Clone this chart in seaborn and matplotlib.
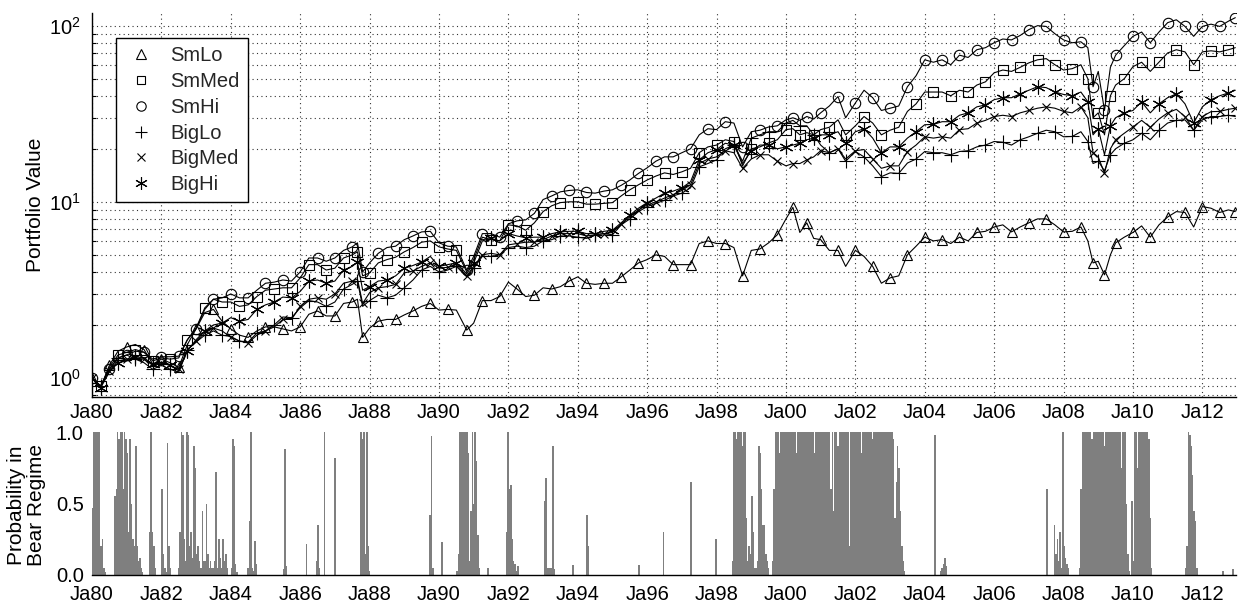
import numpy as np
import matplotlib
matplotlib.use("Agg")
import matplotlib.pyplot as plt
import seaborn as sns
from matplotlib.lines import Line2D
from matplotlib.ticker import LogLocator, NullFormatter

# ---------------- data ----------------
dates = [
    1980.00, 1980.25, 1980.50, 1980.75,
    1981.00, 1981.25, 1981.50, 1981.75,
    1982.00, 1982.25, 1982.50, 1982.75,
    1983.00, 1983.25, 1983.50, 1983.75,
    1984.00, 1984.25, 1984.50, 1984.75,
    1985.00, 1985.25, 1985.50, 1985.75,
    1986.00, 1986.25, 1986.50, 1986.75,
    1987.00, 1987.25, 1987.50, 1987.65, 1987.80,
    1988.00, 1988.25, 1988.50, 1988.75,
    1989.00, 1989.25, 1989.50, 1989.75,
    1990.00, 1990.25, 1990.50, 1990.80,
    1991.00, 1991.25, 1991.50, 1991.75,
    1992.00, 1992.25, 1992.50, 1992.75,
    1993.00, 1993.25, 1993.50, 1993.75,
    1994.00, 1994.25, 1994.50, 1994.75,
    1995.00, 1995.25, 1995.50, 1995.75,
    1996.00, 1996.25, 1996.50, 1996.75,
    1997.00, 1997.25, 1997.50, 1997.75,
    1998.00, 1998.25, 1998.50, 1998.75,
    1999.00, 1999.25, 1999.50, 1999.75,
    2000.00, 2000.20, 2000.40, 2000.60, 2000.80,
    2001.00, 2001.25, 2001.50, 2001.72,
    2002.00, 2002.25, 2002.50, 2002.75,
    2003.00, 2003.25, 2003.50, 2003.75,
    2004.00, 2004.25, 2004.50, 2004.75,
    2005.00, 2005.25, 2005.50, 2005.75,
    2006.00, 2006.25, 2006.50, 2006.75,
    2007.00, 2007.25, 2007.50, 2007.75,
    2008.00, 2008.25, 2008.50, 2008.70, 2008.85,
    2009.00, 2009.18, 2009.35, 2009.50, 2009.75,
    2010.00, 2010.25, 2010.50, 2010.75,
    2011.00, 2011.25, 2011.50, 2011.75,
    2012.00, 2012.25, 2012.50, 2012.75, 2012.95,
]

sm_lo = [
    1.00, 0.88, 1.18, 1.42,
    1.50, 1.55, 1.45, 1.20,
    1.28, 1.22, 1.15, 1.55,
    1.90, 2.35, 2.45, 2.10,
    1.90, 1.75, 1.70, 1.85,
    1.95, 1.95, 1.90, 1.85,
    1.95, 2.30, 2.40, 2.25,
    2.25, 2.65, 2.70, 2.80, 1.70,
    1.92, 2.10, 2.15, 2.15,
    2.28, 2.40, 2.55, 2.65,
    2.43, 2.45, 2.43, 1.87,
    2.05, 2.75, 2.75, 2.90,
    3.50, 3.20, 2.90, 2.95,
    3.25, 3.20, 3.30, 3.55,
    3.75, 3.45, 3.40, 3.45,
    3.45, 3.75, 4.10, 4.50,
    4.70, 5.00, 4.90, 4.40,
    4.40, 4.40, 5.80, 6.00,
    5.80, 5.80, 5.50, 3.80,
    5.30, 5.40, 5.85, 6.50,
    8.00, 9.30, 6.70, 7.60, 6.20,
    6.10, 5.30, 5.30, 4.30,
    5.30, 4.90, 4.30, 3.45,
    3.70, 3.80, 5.00, 5.60,
    6.30, 6.00, 6.10, 5.80,
    6.30, 6.00, 6.70, 6.80,
    7.20, 7.40, 6.75, 7.20,
    7.60, 8.00, 8.00, 7.40,
    6.75, 6.80, 7.20, 6.00, 4.50,
    4.60, 3.85, 5.00, 5.85, 6.30,
    6.70, 7.30, 6.30, 7.40,
    8.20, 8.80, 8.70, 7.20,
    9.40, 9.20, 8.70, 9.00, 8.80,
]

sm_med = [
    1.00, 0.90, 1.15, 1.35,
    1.40, 1.45, 1.40, 1.25,
    1.30, 1.28, 1.30, 1.65,
    1.92, 2.50, 2.80, 2.70,
    2.70, 2.55, 2.60, 2.90,
    3.15, 3.20, 3.25, 3.25,
    3.70, 4.40, 4.40, 4.10,
    4.20, 4.80, 5.00, 5.20, 3.80,
    3.95, 4.50, 4.70, 4.85,
    5.20, 5.50, 5.90, 6.00,
    5.55, 5.40, 5.30, 4.00,
    4.70, 6.30, 6.10, 6.00,
    7.40, 7.30, 6.90, 7.60,
    8.80, 9.50, 9.90, 10.0,
    10.0, 9.70, 9.70, 9.80,
    9.90, 10.8, 11.7, 12.5,
    13.3, 14.0, 14.6, 14.3,
    14.8, 15.5, 19.0, 20.5,
    21.0, 22.5, 22.0, 16.0,
    20.0, 20.5, 21.6, 22.5,
    25.7, 26.0, 24.0, 24.7, 24.0,
    25.7, 26.5, 29.2, 24.0,
    27.0, 30.5, 28.0, 24.0,
    25.5, 26.5, 32.6, 36.0,
    42.0, 42.0, 42.0, 40.0,
    43.0, 42.0, 46.0, 48.0,
    54.0, 56.0, 55.0, 58.0,
    61.5, 64.0, 65.0, 60.0,
    56.0, 57.0, 60.0, 50.0, 30.0,
    32.0, 24.0, 40.0, 46.0, 50.0,
    58.5, 62.0, 55.0, 62.0,
    70.0, 73.0, 71.0, 60.0,
    71.0, 72.0, 71.0, 73.0, 75.0,
]

sm_hi = [
    1.00, 0.90, 1.12, 1.30,
    1.35, 1.42, 1.40, 1.28,
    1.32, 1.32, 1.33, 1.65,
    1.90, 2.45, 2.80, 2.85,
    3.00, 2.85, 2.85, 3.15,
    3.45, 3.50, 3.60, 3.55,
    4.00, 4.80, 4.80, 4.60,
    4.80, 5.30, 5.55, 5.85, 4.00,
    4.50, 5.10, 5.50, 5.60,
    6.10, 6.40, 6.75, 6.80,
    5.85, 5.60, 5.55, 4.10,
    4.90, 6.60, 6.60, 6.30,
    7.50, 7.80, 7.90, 8.60,
    10.3, 10.8, 11.4, 11.6,
    11.7, 11.3, 11.2, 11.5,
    11.7, 12.4, 13.3, 14.5,
    15.6, 17.0, 18.0, 18.0,
    19.0, 20.0, 24.0, 26.0,
    25.7, 28.5, 28.0, 20.5,
    25.0, 25.5, 26.6, 27.0,
    29.2, 30.0, 29.0, 30.5, 29.5,
    32.0, 35.0, 39.6, 30.0,
    36.4, 43.0, 39.0, 33.0,
    34.0, 35.0, 45.0, 52.0,
    64.0, 62.0, 64.0, 60.0,
    68.0, 66.0, 73.0, 75.0,
    80.0, 84.0, 83.0, 88.0,
    95.0, 100.0, 99.0, 90.0,
    83.0, 80.0, 81.0, 75.0, 45.0,
    55.0, 33.0, 58.0, 68.0, 77.0,
    87.0, 92.0, 80.0, 92.0,
    104.0, 108.0, 99.0, 87.0,
    99.0, 102.0, 99.0, 106.0, 111.0,
]

big_lo = [
    1.00, 0.90, 1.12, 1.30,
    1.35, 1.28, 1.22, 1.12,
    1.18, 1.12, 1.08, 1.45,
    1.60, 1.75, 1.85, 1.75,
    1.72, 1.62, 1.60, 1.80,
    1.85, 2.00, 2.22, 2.20,
    2.50, 2.75, 2.70, 2.55,
    2.70, 3.20, 3.40, 3.55, 2.55,
    2.75, 2.95, 2.85, 2.95,
    3.25, 3.60, 4.10, 4.30,
    4.00, 4.10, 4.30, 3.75,
    4.20, 4.90, 4.90, 5.00,
    5.50, 5.60, 5.50, 5.60,
    6.00, 6.10, 6.40, 6.40,
    6.30, 6.20, 6.50, 6.60,
    6.50, 7.40, 8.00, 8.80,
    9.40, 9.80, 10.2, 10.8,
    11.2, 12.0, 15.8, 16.5,
    17.3, 20.0, 21.0, 17.0,
    23.0, 24.0, 25.0, 25.0,
    28.0, 29.0, 27.0, 27.0, 24.0,
    21.0, 19.0, 20.0, 17.0,
    19.3, 18.0, 16.0, 13.9,
    14.6, 14.5, 16.6, 17.5,
    19.3, 19.0, 19.0, 18.5,
    19.3, 19.5, 20.5, 21.0,
    22.0, 21.8, 21.0, 22.5,
    23.4, 24.5, 25.5, 25.0,
    23.4, 23.5, 25.0, 22.0, 16.5,
    17.0, 15.0, 18.5, 20.0, 21.5,
    22.5, 24.5, 22.5, 25.5,
    28.0, 29.0, 29.2, 25.5,
    29.2, 30.5, 30.5, 31.0, 30.5,
]

big_med = [
    1.00, 0.90, 1.10, 1.25,
    1.28, 1.30, 1.28, 1.18,
    1.22, 1.18, 1.12, 1.45,
    1.62, 1.80, 1.92, 1.85,
    1.70, 1.62, 1.58, 1.75,
    1.85, 1.95, 2.15, 2.15,
    2.55, 2.80, 2.85, 2.80,
    3.00, 3.45, 3.55, 3.65, 2.65,
    3.05, 3.25, 3.30, 3.40,
    3.95, 4.05, 4.30, 4.50,
    4.20, 4.25, 4.40, 3.80,
    4.30, 5.00, 5.10, 5.00,
    5.70, 5.80, 5.90, 5.90,
    6.10, 6.40, 6.60, 6.60,
    6.60, 6.40, 6.50, 6.60,
    6.70, 7.50, 8.20, 9.00,
    9.60, 10.0, 10.5, 11.0,
    11.6, 12.5, 16.5, 17.5,
    18.0, 19.5, 19.0, 15.5,
    17.5, 18.5, 18.5, 17.0,
    16.0, 16.5, 16.5, 17.3, 18.0,
    19.5, 19.0, 20.0, 17.5,
    19.5, 19.8, 17.5, 15.5,
    16.0, 16.0, 19.3, 21.0,
    23.4, 23.0, 23.4, 23.0,
    25.7, 26.0, 28.0, 29.0,
    30.5, 31.0, 30.5, 32.0,
    33.0, 34.0, 34.6, 34.0,
    32.6, 32.0, 34.6, 30.0, 19.0,
    18.0, 14.5, 20.0, 22.5, 24.5,
    26.6, 29.0, 26.5, 29.5,
    32.0, 33.5, 30.5, 25.5,
    30.5, 32.5, 32.6, 33.5, 34.0,
]

big_hi = [
    1.00, 0.88, 1.08, 1.22,
    1.25, 1.32, 1.30, 1.20,
    1.22, 1.18, 1.10, 1.42,
    1.65, 1.85, 2.00, 2.05,
    2.20, 2.10, 2.15, 2.45,
    2.60, 2.70, 2.88, 2.85,
    3.10, 3.55, 3.60, 3.45,
    3.55, 4.10, 4.30, 4.55, 3.15,
    3.30, 3.55, 3.60, 3.80,
    4.20, 4.35, 4.55, 4.90,
    4.30, 4.40, 4.50, 3.90,
    4.50, 6.00, 6.20, 6.00,
    6.60, 6.40, 6.25, 6.30,
    6.30, 6.60, 6.75, 6.80,
    6.80, 6.60, 6.60, 6.80,
    6.90, 7.60, 8.40, 9.20,
    9.90, 10.5, 11.2, 11.5,
    12.0, 13.0, 17.3, 19.0,
    19.8, 21.5, 21.0, 16.5,
    19.5, 21.0, 21.0, 20.0,
    20.5, 21.0, 21.5, 22.5, 23.0,
    24.0, 24.0, 25.0, 21.5,
    25.0, 26.0, 23.0, 19.0,
    20.5, 20.5, 23.0, 25.0,
    27.4, 27.5, 28.5, 28.5,
    31.0, 32.0, 34.6, 35.5,
    38.0, 39.0, 39.0, 41.0,
    43.0, 45.0, 44.5, 42.0,
    40.7, 40.0, 42.0, 37.0, 24.0,
    26.0, 18.5, 27.0, 30.0, 32.0,
    33.0, 37.0, 32.0, 36.0,
    39.0, 41.0, 36.0, 28.0,
    34.6, 38.0, 40.0, 41.5, 43.0,
]

series_names = ["SmLo", "SmMed", "SmHi", "BigLo", "BigMed", "BigHi"]

# bear-regime probability: episodes (start year, values every 0.04 yr)
bear_step = 0.04
bear_episodes = [
    (1980.02, [0.47, 1.0, 1.0, 1.0, 1.0, 1.0, 0.2, 0.25, 0.05, 0.02]),
    (1980.66, [0.55, 0.6, 1.0, 0.95, 1.0, 1.0, 0.6, 1.0, 0.95, 0.85, 0.3, 0.95,
               0.5, 0.25, 0.2, 0.9, 0.2, 0.1, 0.12, 0.05, 0.02]),
    (1981.66, [0.3, 1.0, 0.3, 0.2, 0.05]),
    (1982.02, [0.6, 0.15, 0.05, 0.02, 0.92, 0.2, 0.05]),
    (1982.50, [0.05, 0.3, 1.0, 0.98, 0.25, 0.1, 1.0, 0.98, 0.2, 0.3, 0.12, 0.9,
               0.75, 0.15, 0.2, 0.1, 0.05, 0.45, 0.1, 0.1, 0.5, 0.15, 0.05, 0.1,
               0.05, 0.05, 0.1, 0.72, 0.05, 0.25, 0.12, 0.05, 0.25, 0.1, 0.15, 0.05]),
    (1984.02, [0.05, 0.95, 0.9, 0.08, 0.02]),
    (1984.50, [0.05, 0.38, 1.0, 0.05, 0.03, 0.24, 0.08]),
    (1985.52, [0.04, 0.88, 0.06]),
    (1986.18, [0.22]),
    (1986.48, [0.1, 0.35, 0.05]),
    (1986.70, [1.0]),
    (1987.00, [0.82]),
    (1987.76, [1.0, 0.95, 1.0, 0.15, 1.0, 0.2, 0.03]),
    (1989.74, [0.42, 0.97, 0.05]),
    (1990.08, [0.23]),
    (1990.52, [0.03, 0.15, 1.0, 1.0, 1.0, 1.0, 1.0, 1.0, 0.85, 0.1, 0.45, 1.0,
               0.5, 1.0, 0.8, 0.28, 0.05]),
    (1991.41, [0.05]),
    (1991.95, [0.3, 1.0, 0.6, 0.63, 0.25, 0.1, 0.08, 0.03, 0.06]),
    (1993.05, [0.52, 0.68, 0.05, 0.05, 0.05, 0.05, 0.9, 0.04]),
    (1993.87, [0.07]),
    (1994.27, [0.42, 0.2]),
    (1995.76, [0.07]),
    (1996.47, [0.3]),
    (1997.27, [0.65]),
    (1997.98, [0.25]),
    (1998.46, [0.1, 1.0, 1.0, 0.95, 1.0, 1.0, 1.0, 0.9, 1.0, 1.0, 0.4, 0.1,
               0.2, 0.15, 0.55, 0.3, 0.05, 0.05, 0.1, 0.9, 0.85, 0.6, 0.35,
               0.35, 0.15, 0.1, 0.05]),
    (1999.62, [0.1, 0.6, 1.0, 1.0, 1.0, 0.85, 1.0, 1.0, 1.0, 1.0,
               1, 1, 1, 1, 1, 1, 1, 0.85, 1, 1, 1, 1, 1, 1, 1, 1, 1, 1, 1, 1,
               0.85, 1, 1, 1, 1,
               1, 1, 1, 1, 1, 1, 1, 0.6, 1, 0.45, 1, 1, 0.9, 1, 1, 1, 1, 1, 1,
               1, 0.2, 1, 1, 1, 1,
               1, 1, 1, 1, 0.85, 1, 1, 1, 1, 1, 1, 1, 0.95, 1, 1, 1, 1, 1, 1,
               1, 1, 1, 1, 1, 1,
               1.0, 1.0, 0.95, 0.4, 0.65, 0.9, 0.75, 0.45, 0.2, 0.1, 0.03]),
    (2004.30, [0.98]),
    (2004.46, [0.03, 0.05, 0.08, 0.12, 0.06]),
    (2007.53, [0.6]),
    (2007.74, [0.35, 0.15, 0.25, 0.1, 0.3, 0.05, 1.0, 0.2, 0.12, 0.08, 0.05]),
    (2008.46, [0.05, 0.6, 1.0, 1.0, 1.0, 1.0, 1.0, 1.0, 1.0, 0.95, 1.0, 1.0,
               1.0, 1.0, 1.0, 1.0, 1.0, 1.0, 0.9, 1.0, 1.0, 1.0, 1.0, 1.0, 1.0,
               1.0, 1.0, 1.0, 1.0, 1.0, 0.75, 1.0, 1.0, 1.0, 0.5, 0.15, 0.03]),
    (2009.98, [0.52, 0.1, 1.0, 1.0, 0.75, 1.0, 1.0, 1.0, 1.0, 1.0, 1.0, 1.0,
               0.95, 0.4, 0.05]),
    (2011.52, [0.05, 0.2, 1.0, 0.98, 0.9, 0.7, 0.45, 0.38, 0.05]),
    (2012.60, [0.03]),
    (2012.88, [0.04]),
]

xtick_years = list(range(1980, 2013, 2))
xtick_labels = ["Ja%02d" % (y % 100) for y in xtick_years]

# ---------------- style ----------------
sns.set_theme(style="white")
plt.rcParams["font.family"] = ["Liberation Sans", "DejaVu Sans"]
plt.rcParams["mathtext.fontset"] = "custom"
plt.rcParams["mathtext.rm"] = "Liberation Sans"
plt.rcParams["mathtext.it"] = "Liberation Sans"
plt.rcParams["axes.unicode_minus"] = False

W, H = 1238, 603
fig = plt.figure(figsize=(W / 100, H / 100), dpi=100)
fig.patch.set_facecolor("white")
ax1 = fig.add_axes([92 / W, 1 - 397 / H, 1144 / W, 384 / H])
ax2 = fig.add_axes([92 / W, 1 - 575 / H, 1144 / W, 143 / H])

markers = {
    "SmLo": dict(marker="^", ms=7.5),
    "SmMed": dict(marker="s", ms=7.0),
    "SmHi": dict(marker="o", ms=7.5),
    "BigLo": dict(marker="+", ms=10),
    "BigMed": dict(marker="x", ms=6),
    "BigHi": dict(marker=(6, 2, 0), ms=10),
}
values = [sm_lo, sm_med, sm_hi, big_lo, big_med, big_hi]
offsets = [0, 1, 0, 1, 0, 1]

for name, vals, off in zip(series_names, values, offsets):
    m = markers[name]
    sns.lineplot(x=dates, y=vals, ax=ax1, color="black", lw=0.8,
                 sort=False, estimator=None, legend=False,
                 marker=m["marker"], markersize=m["ms"], markevery=(off, 2),
                 markerfacecolor="none", markeredgecolor="black",
                 markeredgewidth=0.8)

ax1.set_yscale("log")
ax1.set_ylim(0.78, 118)
ax1.set_xlim(1980.0, 2012.97)
ax1.yaxis.set_major_locator(LogLocator(base=10, numticks=10))
ax1.yaxis.set_minor_locator(LogLocator(base=10, subs=np.arange(2, 10), numticks=20))
ax1.yaxis.set_minor_formatter(NullFormatter())
ax1.set_xticks(xtick_years)
ax1.set_xticklabels(xtick_labels)
ax1.grid(True, which="both", axis="y", ls=(0, (1, 3)), color="#333333", lw=0.8)
ax1.grid(True, which="major", axis="x", ls=(0, (1, 3)), color="#333333", lw=0.8)
for s in ["top", "right"]:
    ax1.spines[s].set_visible(False)
for s in ["left", "bottom"]:
    ax1.spines[s].set_color("black")
    ax1.spines[s].set_linewidth(1.0)
ax1.tick_params(axis="both", which="major", direction="in", length=6, width=1,
                color="black", labelsize=14.5, labelcolor="black")
ax1.tick_params(axis="y", which="minor", direction="in", length=3, width=0.8,
                color="black", left=True)
ax1.tick_params(axis="x", which="major", pad=4)
ax1.tick_params(axis="y", which="major", pad=8)
ax1.set_ylabel("Portfolio Value", fontsize=15, color="black")
ax1.yaxis.set_label_coords(-0.041, 0.5)

handles = [Line2D([], [], ls="none", color="black", marker=markers[n]["marker"],
                  markersize=markers[n]["ms"] * 0.9, markerfacecolor="none",
                  markeredgecolor="black", markeredgewidth=0.8)
           for n in series_names]
leg = ax1.legend(handles, series_names, loc="upper left",
                 bbox_to_anchor=(0.021, 0.935), borderaxespad=0,
                 fontsize=14.5, frameon=True, fancybox=False, framealpha=1,
                 edgecolor="black", handlelength=1.7, handletextpad=0.6,
                 labelspacing=0.34, borderpad=0.4)
leg.get_frame().set_linewidth(1.0)

# ---------------- bottom panel ----------------
bx, by = [], []
for start, vals in bear_episodes:
    for i, v in enumerate(vals):
        bx.append(start + i * bear_step)
        by.append(v)
ax2.bar(bx, by, width=0.045, color="#7f7f7f", linewidth=0, align="center")
ax2.set_xlim(1980.0, 2012.97)
ax2.set_ylim(0, 1.0)
ax2.set_yticks([0.0, 0.5, 1.0])
ax2.set_yticklabels(["0.0", "0.5", "1.0"])
ax2.set_xticks(xtick_years)
ax2.set_xticklabels(xtick_labels)
for s in ["top", "right", "left"]:
    ax2.spines[s].set_visible(False)
ax2.spines["bottom"].set_color("black")
ax2.spines["bottom"].set_linewidth(1.0)
ax2.tick_params(axis="both", which="major", direction="in", length=0,
                labelsize=14.5, labelcolor="black")
ax2.tick_params(axis="x", pad=7)
ax2.tick_params(axis="y", pad=6)
ax2.set_ylabel("Probability in\nBear Regime", fontsize=15, color="black",
               linespacing=1.05)
ax2.yaxis.set_label_coords(-0.040, 0.49)
ax2.grid(False)

fig.savefig("out.png", dpi=100, facecolor="white")
